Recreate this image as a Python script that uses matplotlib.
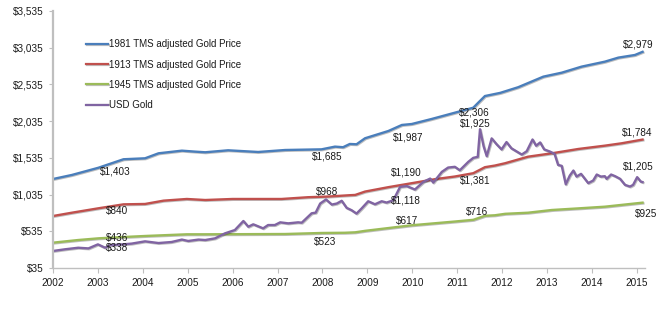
import matplotlib
matplotlib.use("Agg")
import matplotlib.pyplot as plt
import matplotlib.patheffects as pe

BLUE = "#4A7EBB"
RED = "#C0504D"
GREEN = "#9BBB59"
PURPLE = "#8064A2"
AXIS_GRAY = "#BFBFBF"

plt.rcParams.update({
    "font.family": ["Liberation Sans", "DejaVu Sans"],
    "font.size": 7,
    "text.color": "#1A1A1A",
    "xtick.color": "#1A1A1A",
    "ytick.color": "#1A1A1A",
})

# --- data (decimal years, dollars) ---
blue_x = [2002.00, 2002.42, 2003.01, 2003.57, 2004.05, 2004.35, 2004.87, 2005.16,
          2005.39, 2005.90, 2006.57, 2007.17, 2007.98, 2008.28, 2008.46, 2008.61,
          2008.76, 2008.95, 2009.47, 2009.77, 2009.99, 2010.43, 2010.95, 2011.36,
          2011.47, 2011.62, 2011.96, 2012.36, 2012.92, 2013.33, 2013.77, 2014.29,
          2014.59, 2014.96, 2015.13]
blue_y = [1247, 1302, 1400, 1516, 1529, 1597, 1633, 1620,
          1611, 1638, 1615, 1642, 1651, 1688, 1680, 1724,
          1720, 1802, 1901, 1983, 1996, 2064, 2150, 2218,
          2286, 2377, 2420, 2497, 2641, 2695, 2777, 2845,
          2900, 2936, 2979]

red_x = [2002.00, 2002.42, 2003.01, 2003.57, 2004.05, 2004.46, 2004.98, 2005.39,
         2006.00, 2007.09, 2007.68, 2008.12, 2008.60, 2008.73, 2008.95, 2009.47,
         2009.99, 2010.51, 2010.95, 2011.36, 2011.62, 2011.84, 2012.07, 2012.58,
         2013.11, 2013.70, 2014.29, 2014.66, 2015.13]
red_y = [743, 788, 848, 902, 907, 952, 975, 961,
         975, 975, 999, 1008, 1026, 1030, 1076, 1136,
         1190, 1245, 1281, 1326, 1408, 1430, 1462, 1551,
         1597, 1656, 1701, 1733, 1784]

green_x = [2002.00, 2002.56, 2003.01, 2003.57, 2004.05, 2004.98, 2005.39, 2007.17,
           2007.98, 2008.50, 2008.73, 2008.95, 2009.99, 2010.95, 2011.36, 2011.62,
           2011.84, 2012.07, 2012.58, 2013.11, 2013.70, 2014.29, 2015.13]
green_y = [380, 416, 439, 457, 471, 494, 494, 498,
           512, 515, 521, 541, 617, 668, 691, 746,
           753, 773, 788, 825, 847, 870, 925]

gold_x = [2002.00, 2002.27, 2002.56, 2002.79, 2003.00, 2003.16, 2003.27, 2003.57,
          2003.75, 2004.05, 2004.35, 2004.64, 2004.87, 2005.01, 2005.24, 2005.39,
          2005.61, 2005.83, 2006.05, 2006.24, 2006.35, 2006.46, 2006.68, 2006.79,
          2006.94, 2007.06, 2007.24, 2007.46, 2007.54, 2007.76, 2007.85, 2007.95,
          2008.08, 2008.21, 2008.32, 2008.43, 2008.54, 2008.65, 2008.76, 2008.87,
          2009.02, 2009.17, 2009.32, 2009.43, 2009.58, 2009.73, 2009.88, 2010.06,
          2010.25, 2010.40, 2010.47, 2010.66, 2010.80, 2010.95, 2011.06, 2011.25,
          2011.36, 2011.46, 2011.51, 2011.59, 2011.66, 2011.77, 2011.88, 2011.99,
          2012.10, 2012.21, 2012.44, 2012.55, 2012.68, 2012.76, 2012.85, 2012.94,
          2013.07, 2013.17, 2013.25, 2013.33, 2013.42, 2013.51, 2013.59, 2013.66,
          2013.76, 2013.92, 2014.03, 2014.11, 2014.20, 2014.29, 2014.33, 2014.43,
          2014.52, 2014.63, 2014.74, 2014.85, 2014.92, 2015.01, 2015.09, 2015.13]
gold_y = [267, 290, 311, 302, 357, 311, 345, 358,
          367, 398, 375, 389, 422, 403, 422, 416,
          439, 507, 552, 675, 597, 630, 575, 620,
          620, 657, 643, 657, 652, 780, 789, 913,
          968, 899, 913, 950, 854, 822, 776, 844,
          944, 903, 944, 926, 958, 1140, 1150, 1104,
          1208, 1253, 1198, 1344, 1403, 1413, 1366, 1481,
          1535, 1549, 1925, 1694, 1558, 1800, 1720, 1650,
          1750, 1665, 1580, 1625, 1785, 1700, 1745, 1650,
          1620, 1590, 1439, 1426, 1175, 1294, 1362, 1280,
          1317, 1191, 1226, 1308, 1280, 1285, 1249, 1308,
          1285, 1249, 1167, 1144, 1167, 1272, 1212, 1205]

series_names = ["1981 TMS adjusted Gold Price", "1913 TMS adjusted Gold Price",
                "1945 TMS adjusted Gold Price", "USD Gold"]

# data labels: (text, x, y) centre positions
labels = [
    ("$1,403", 2003.38, 1347), ("$840", 2003.43, 811), ("$436", 2003.43, 440),
    ("$338", 2003.43, 302),
    ("$1,685", 2008.10, 1560), ("$968", 2008.10, 1074), ("$523", 2008.06, 393),
    ("$1,987", 2009.91, 1815), ("$1,190", 2009.87, 1338), ("$1,118", 2009.85, 961),
    ("$617", 2009.88, 679),
    ("$2,306", 2011.38, 2150), ("$1,925", 2011.40, 2005), ("$1,381", 2011.41, 1220),
    ("$716", 2011.44, 802),
    ("$2,979", 2015.04, 3072), ("$1,784", 2015.01, 1883), ("$1,205", 2015.04, 1424),
    ("$925", 2015.22, 766),
]

years = list(range(2002, 2016))
yticks = list(range(35, 3536, 500))

fig = plt.figure(figsize=(6.66, 3.25), dpi=100)
ax = fig.add_axes([53 / 666, 57 / 325, 592 / 666, 257 / 325])

shadow = [pe.SimpleLineShadow(offset=(0.6, -0.6), alpha=0.25), pe.Normal()]
for xs, ys, col, name in [(blue_x, blue_y, BLUE, series_names[0]),
                          (red_x, red_y, RED, series_names[1]),
                          (green_x, green_y, GREEN, series_names[2]),
                          (gold_x, gold_y, PURPLE, series_names[3])]:
    ax.plot(xs, ys, color=col, lw=1.7, label=name, path_effects=shadow,
            solid_joinstyle="round")

for txt, x, y in labels:
    ax.text(x, y, txt, ha="center", va="center", fontsize=7.2)

ax.set_xlim(2002, 2002 + 592 / 44.9)
ax.set_ylim(35, 3535)
ax.set_xticks(years)
ax.set_xticklabels([str(y) for y in years])
ax.set_yticks(yticks)
ax.set_yticklabels([f"${v:,}" for v in yticks])

for s in ["top", "right"]:
    ax.spines[s].set_visible(False)
ax.spines["left"].set_color(AXIS_GRAY)
ax.spines["left"].set_linewidth(1.6)
ax.spines["bottom"].set_color(AXIS_GRAY)
ax.spines["bottom"].set_linewidth(1.0)
ax.spines["bottom"].set_linestyle((0, (1, 1)))
ax.tick_params(axis="y", length=3, width=0.8, color=AXIS_GRAY, pad=4, labelsize=7.2)
ax.tick_params(axis="x", length=3.5, width=0.8, color=AXIS_GRAY, pad=4, labelsize=7.2)

leg = ax.legend(loc="upper left", bbox_to_anchor=(0.05, 0.905), frameon=False,
                fontsize=7, handlelength=2.2, handletextpad=0.15, labelspacing=1.05,
                borderaxespad=0)
for h in leg.get_lines():
    h.set_linewidth(1.6)

fig.savefig("out.png", dpi=100)
